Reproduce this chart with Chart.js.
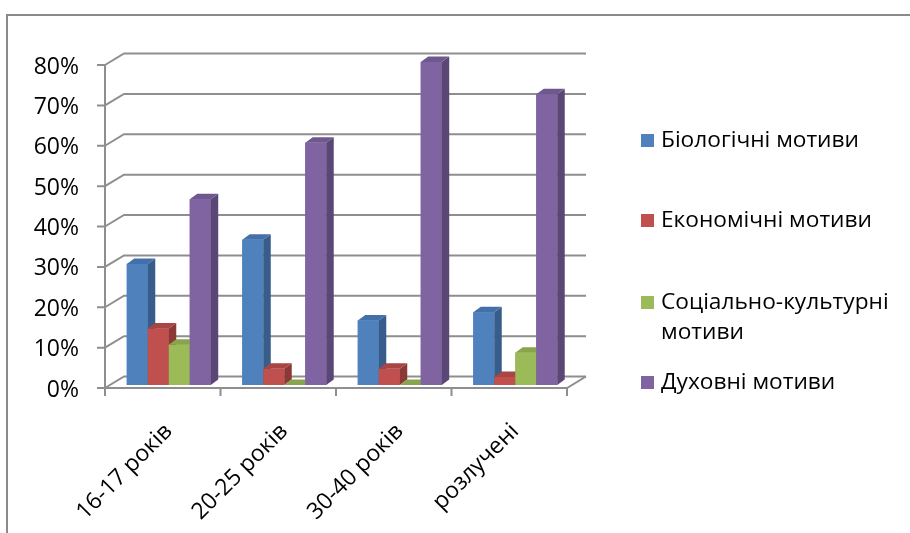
<!DOCTYPE html>
<html>
<head>
<meta charset="utf-8">
<script src="https://cdn.jsdelivr.net/npm/chart.js@4.4.1/dist/chart.umd.min.js"></script>
<style>
  html, body { margin: 0; padding: 0; background: #fff; }
</style>
</head>
<body>
<canvas id="barChart" width="910" height="533"></canvas>
<script>
// Data (percent)
const categories = ["16-17 років", "20-25 років", "30-40 років", "розлучені"];
const seriesNames = ["Біологічні мотиви", "Економічні мотиви", "Соціально-культурні мотиви", "Духовні мотиви"];
const biological = [30, 36, 16, 18];
const economic = [14, 4, 4, 2];
const sociocultural = [10, 0, 0, 8];
const spiritual = [46, 60, 80, 72];
const yTicks = [0, 10, 20, 30, 40, 50, 60, 70, 80];
const legendLines = [["Біологічні мотиви"], ["Економічні мотиви"], ["Соціально-культурні", "мотиви"], ["Духовні мотиви"]];

// face colours: front, side, top
const faces = [
  ["#4F81BD", "#385D8A", "#4370A8"],
  ["#C0504D", "#8C3936", "#A94542"],
  ["#9BBB59", "#71893F", "#88A54D"],
  ["#8064A2", "#5B4776", "#6F5890"]
];

const FONT = "'Open Sans', sans-serif";
const FRONT = { dx: -6, dy: 3 };    // front plane offset from bar plane
const BACK = { dx: 13, dy: -8.5 };  // back wall offset from bar plane
const DEPTH = { dx: 7.5, dy: -5.5 }; // bar depth

const frame3d = {
  id: "frame3d",
  beforeDatasetsDraw(chart) {
    const { ctx, chartArea: ca, scales: { x: xs, y: ys } } = chart;
    ctx.save();
    // outer border
    ctx.strokeStyle = "#8a8a8a";
    ctx.lineWidth = 2;
    ctx.beginPath();
    ctx.moveTo(7, 533);
    ctx.lineTo(7, 15);
    ctx.lineTo(910, 15);
    ctx.stroke();

    // back wall gridlines with side-wall diagonals
    ctx.strokeStyle = "#8e8e8e";
    ctx.lineWidth = 2;
    yTicks.forEach((v) => {
      const py = ys.getPixelForValue(v);
      ctx.beginPath();
      ctx.moveTo(ca.left + FRONT.dx, py + FRONT.dy);
      ctx.lineTo(ca.left + BACK.dx, py + BACK.dy);
      ctx.lineTo(ca.right + BACK.dx, py + BACK.dy);
      ctx.stroke();
    });

    // floor front edge and right edge
    const y0 = ys.getPixelForValue(0);
    ctx.beginPath();
    ctx.moveTo(ca.left + FRONT.dx, y0 + FRONT.dy);
    ctx.lineTo(ca.right + FRONT.dx, y0 + FRONT.dy);
    ctx.lineTo(ca.right + BACK.dx, y0 + BACK.dy);
    ctx.stroke();

    // front value axis and its ticks
    const ax = ca.left + FRONT.dx;
    ctx.beginPath();
    ctx.moveTo(ax, ys.getPixelForValue(yTicks[yTicks.length - 1]) + FRONT.dy);
    ctx.lineTo(ax, y0 + FRONT.dy);
    yTicks.forEach((v) => {
      const py = ys.getPixelForValue(v) + FRONT.dy;
      ctx.moveTo(ax - 8, py);
      ctx.lineTo(ax, py);
    });
    // category ticks
    const pitch = xs.getPixelForValue(1) - xs.getPixelForValue(0);
    for (let i = 0; i <= categories.length; i++) {
      const px = xs.getPixelForValue(0) - pitch / 2 + i * pitch + FRONT.dx;
      ctx.moveTo(px, y0 + FRONT.dy);
      ctx.lineTo(px, y0 + FRONT.dy + 8);
    }
    ctx.stroke();
    ctx.restore();
  },
  afterDatasetsDraw(chart) {
    const { ctx } = chart;
    ctx.save();
    categories.forEach((c, i) => {
      chart.data.datasets.forEach((ds, d) => {
        const el = chart.getDatasetMeta(d).data[i];
        const { x, y, base, width } = el.getProps(["x", "y", "base", "width"], true);
        const l = x - width / 2, r = x + width / 2;
        const [front, side, top] = faces[d];
        ctx.fillStyle = front;
        ctx.fillRect(l, y, width, base - y);
        ctx.fillStyle = side;
        ctx.beginPath();
        ctx.moveTo(r, y);
        ctx.lineTo(r + DEPTH.dx, y + DEPTH.dy);
        ctx.lineTo(r + DEPTH.dx, base + DEPTH.dy);
        ctx.lineTo(r, base);
        ctx.closePath();
        ctx.fill();
        ctx.fillStyle = top;
        ctx.beginPath();
        ctx.moveTo(l, y);
        ctx.lineTo(l + DEPTH.dx, y + DEPTH.dy);
        ctx.lineTo(r + DEPTH.dx, y + DEPTH.dy);
        ctx.lineTo(r, y);
        ctx.closePath();
        ctx.fill();
      });
    });
    ctx.restore();
  },
  afterDraw(chart) {
    // legend on the right
    const { ctx } = chart;
    const rows = [141, 221, 303, 383];
    ctx.save();
    ctx.font = "22.7px " + FONT;
    ctx.textBaseline = "middle";
    ctx.fillStyle = "#000";
    legendLines.forEach((lines, i) => {
      ctx.fillStyle = faces[i][0];
      ctx.fillRect(641, rows[i] - 7, 13, 13);
      ctx.fillStyle = "#000";
      lines.forEach((t, k) => ctx.fillText(t, 661, rows[i] + k * 30));
    });
    ctx.restore();
  }
};

const ctx = document.getElementById("barChart").getContext("2d");
new Chart(ctx, {
  type: "bar",
  data: {
    labels: categories,
    datasets: [biological, economic, sociocultural, spiritual].map((vals, d) => ({
      label: seriesNames[d],
      data: vals,
      backgroundColor: faces[d][0],
      borderWidth: 0,
      categoryPercentage: 0.727,
      barPercentage: 1
    }))
  },
  options: {
    responsive: false,
    animation: false,
    devicePixelRatio: 1,
    layout: { padding: { top: 62, right: 337, left: 0, bottom: 0 } },
    plugins: { legend: { display: false }, tooltip: { enabled: false } },
    scales: {
      x: {
        grid: { display: false, drawTicks: false },
        border: { display: false },
        ticks: { minRotation: 45, maxRotation: 45, padding: 33, color: "#000", font: { family: FONT, size: 23 } },
        afterFit(s) { s.height = 148; }
      },
      y: {
        min: 0,
        max: 80,
        grid: { display: false, drawTicks: false },
        border: { display: false },
        afterBuildTicks(s) { s.ticks = yTicks.map((v) => ({ value: v })); },
        ticks: { padding: 32, labelOffset: 5, color: "#000", font: { family: FONT, size: 23 }, callback: (v) => v + "%" },
        afterFit(s) { s.width = 111; }
      }
    }
  },
  plugins: [frame3d]
});
</script>
</body>
</html>
